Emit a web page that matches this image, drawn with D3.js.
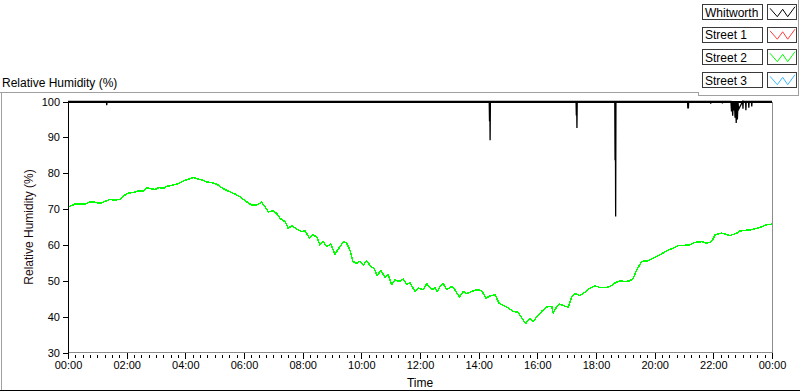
<!DOCTYPE html>
<html>
<head>
<meta charset="utf-8">
<script src="https://cdn.jsdelivr.net/npm/d3@7"></script>
<style>
  html, body { margin: 0; padding: 0; background: #fff; }
  svg { display: block; font-family: "Liberation Sans", Arial, sans-serif; }
</style>
</head>
<body>
<svg id="chart" width="800" height="392"></svg>
<script>
// ---------- DATA ----------
const seriesNames = ["Whitworth", "Street 1", "Street 2", "Street 3"];
const seriesColors = ["#000000", "#ff3c3c", "#00ff00", "#3cb9ff"];

const yTickValues = [30, 40, 50, 60, 70, 80, 90, 100];
const xTickHours = [0, 2, 4, 6, 8, 10, 12, 14, 16, 18, 20, 22, 24];
const xTickLabels = ["00:00", "02:00", "04:00", "06:00", "08:00", "10:00", "12:00",
                     "14:00", "16:00", "18:00", "20:00", "22:00", "00:00"];

// Whitworth (black) – hours of day, relative humidity %
const whitworthHours = [0, 1.31, 1.32, 1.33, 14.36, 14.37, 14.38, 14.39, 14.40,
  17.32, 17.33, 17.34, 17.35, 17.36, 18.64, 18.65, 18.66, 18.67, 18.68,
  21.12, 21.13, 21.15, 21.16, 21.9, 21.91, 21.92, 22.3, 22.31, 22.32,
  22.6, 22.62, 22.64, 22.66, 22.68, 22.7, 22.72, 22.74, 22.76, 22.78, 22.8, 22.82, 22.84, 22.86,
  23.0, 23.01, 23.02, 23.1, 23.11, 23.12, 23.2, 23.21, 23.22, 23.3, 23.31, 23.32, 24];
const whitworthValues = [100, 100, 99.0, 100, 100, 94.5, 100, 89.2, 100,
  100, 96.1, 100, 92.6, 100, 100, 83.6, 100, 67.9, 100,
  100, 98.2, 98.2, 100, 100, 99.4, 100, 100, 99.5, 100,
  100, 97.2, 100, 96.0, 100, 97.5, 100, 95.5, 100, 94.0, 100, 95.0, 100, 97.8,
  100, 98.0, 100, 100, 97.6, 100, 100, 98.3, 100, 100, 98.6, 100, 100];

// Street 2 (green)
const street2Hours = [0.01, 0.24, 0.58, 0.75, 0.92, 1.09, 1.26, 1.43, 1.60, 1.77, 1.94, 2.06, 2.23, 2.40, 2.57,
  2.70, 2.85, 2.97, 3.10, 3.25, 3.39, 3.59, 3.76, 3.93, 4.10, 4.27, 4.39, 4.56, 4.73, 4.95,
  5.12, 5.29, 5.46, 5.64, 5.81, 5.98, 6.15, 6.26, 6.43, 6.60, 6.72, 6.83, 7.00, 7.11, 7.23,
  7.40, 7.51, 7.63, 7.80, 7.97, 8.08, 8.23,
  8.34, 8.48, 8.59, 8.70, 8.82, 8.96, 9.10, 9.21, 9.39, 9.50, 9.61, 9.71, 9.84, 9.95, 10.07,
  10.18, 10.32, 10.43, 10.54, 10.66, 10.81, 10.92, 11.03, 11.15, 11.29, 11.43, 11.55, 11.66, 11.83, 11.94,
  12.11, 12.23, 12.40, 12.51, 12.59, 12.68, 12.79, 12.91, 13.08, 13.19, 13.34, 13.48, 13.59, 13.76, 13.93,
  14.10, 14.25, 14.39, 14.56, 14.69, 14.84, 15.01, 15.18, 15.35, 15.47, 15.60, 15.75, 15.86, 16.00, 16.15, 16.32,
  16.49, 16.54, 16.66, 16.77, 16.94, 17.06, 17.17, 17.28, 17.45, 17.59, 17.80, 17.97, 18.14, 18.31, 18.48,
  18.65, 18.82, 18.99, 19.16, 19.27, 19.39, 19.56, 19.78, 19.95, 20.18, 20.41, 20.63, 20.81, 21.20, 21.37,
  21.60, 21.77, 21.94, 22.06, 22.28, 22.57, 22.80, 22.91, 23.25, 23.48, 23.82, 23.99];
const street2Values = [70.6, 71.4, 71.4, 72.0, 71.9, 71.6, 72.1, 72.7, 72.5, 72.7, 73.9, 74.5, 74.6, 75.1, 75.1,
  75.9, 75.6, 75.5, 76.0, 75.8, 76.4, 76.7, 77.1, 77.8, 78.3, 78.8, 78.5, 78.1, 77.6, 77.3,
  76.7, 75.7, 75.0, 74.4, 73.7, 72.7, 71.7, 71.1, 71.1, 71.9, 70.6, 69.2, 69.5, 68.8, 67.4,
  66.5, 64.6, 65.4, 64.4, 63.7, 64.0, 61.9,
  62.8, 62.3, 60.0, 60.9, 59.5, 60.3, 57.4, 58.8, 60.9, 60.5, 58.6, 55.4, 54.9, 55.4, 54.4,
  55.6, 54.0, 53.5, 51.4, 52.9, 51.0, 51.7, 48.9, 50.3, 49.8, 50.5, 48.9, 49.5, 47.0, 48.0,
  47.5, 49.2, 47.5, 48.0, 47.0, 48.4, 49.2, 47.5, 48.4, 47.5, 45.5, 47.0, 46.4, 47.0, 47.5,
  47.3, 45.2, 45.8, 46.1, 43.8, 43.1, 42.4, 41.5, 41.2, 39.6, 38.1, 39.6, 38.7, 40.1, 41.5, 42.7,
  42.9, 41.0, 42.7, 43.5, 42.9, 42.7, 45.6, 46.4, 45.9, 46.6, 48.0, 48.6, 48.1, 48.1, 48.4,
  49.4, 50.0, 49.8, 50.0, 50.7, 53.1, 55.4, 55.6, 56.3, 57.2, 58.4, 59.1, 59.8, 60.0, 60.7,
  60.9, 60.5, 60.9, 62.8, 63.3, 62.6, 63.3, 63.9, 64.2, 64.6, 65.6, 65.8];

// ---------- LAYOUT ----------
const svg = d3.select("#chart");
const plot = { left: 68, right: 772, top: 101.5, bottom: 352.5 };

const x = d3.scaleLinear().domain([0, 24]).range([plot.left, plot.right]);
const y = d3.scaleLinear().domain([30, 100]).range([plot.bottom, plot.top]);

// outer frame
const frame = svg.append("g").attr("fill", "none").attr("shape-rendering", "crispEdges");
frame.append("path").attr("d", "M0,92.5H698.5V95.5H798.5V0").attr("stroke", "#a0a0a0");
frame.append("path").attr("d", "M1.5,92.5V390").attr("stroke", "#a0a0a0");
frame.append("path").attr("d", "M0,390.5H800").attr("stroke", "#000");

// title
svg.append("text").attr("x", 2).attr("y", 87).attr("font-size", 12).attr("fill", "#000")
  .text("Relative Humidity (%)");

// plot borders (right and bottom grey)
frame.append("path")
  .attr("d", `M${plot.left},${plot.bottom}H${plot.right + 0.5}V${plot.top}`)
  .attr("stroke", "#8c8c8c");

// clip
svg.append("clipPath").attr("id", "clip").append("rect")
  .attr("x", plot.left).attr("y", plot.top - 1.5)
  .attr("width", plot.right - plot.left).attr("height", plot.bottom - plot.top + 1.5);

const line = d3.line().x(d => x(d[0])).y(d => y(d[1]));

const street2 = street2Hours.map((h, i) => [h, street2Values[i]]);
const whit = whitworthHours.map((h, i) => [h, whitworthValues[i]]);

const lines = svg.append("g").attr("clip-path", "url(#clip)");
lines.append("path").datum(street2).attr("d", line)
  .attr("fill", "none").attr("stroke", seriesColors[2]).attr("stroke-width", 1.5)
  .attr("stroke-linejoin", "round").attr("shape-rendering", "crispEdges");
lines.append("path").datum(whit).attr("d", line)
  .attr("fill", "none").attr("stroke", seriesColors[0]).attr("stroke-width", 1.3);
// top black band at 100
lines.append("line")
  .attr("x1", plot.left).attr("x2", plot.right)
  .attr("y1", y(100) + 0.5).attr("y2", y(100) + 0.5)
  .attr("stroke", "#000").attr("stroke-width", 2);

// y axis
const yAxis = d3.axisLeft(y).tickValues(yTickValues).tickSize(5).tickSizeOuter(0).tickPadding(3);
const gy = svg.append("g").attr("transform", `translate(${plot.left},0)`).call(yAxis);
gy.select(".domain").attr("stroke", "#000").attr("shape-rendering", "crispEdges");
gy.selectAll(".tick line").attr("stroke", "#000").attr("shape-rendering", "crispEdges");
gy.selectAll("text").attr("font-size", 11).attr("fill", "#000").attr("font-family", "Liberation Sans, Arial, sans-serif");

// x axis
const xAxis = d3.axisBottom(x).tickValues(xTickHours).tickSize(6).tickSizeOuter(0).tickPadding(3)
  .tickFormat((d, i) => xTickLabels[i]);
const gx = svg.append("g").attr("transform", `translate(0,${plot.bottom})`).call(xAxis);
gx.select(".domain").remove();
gx.selectAll(".tick line").attr("stroke", "#000").attr("shape-rendering", "crispEdges");
gx.selectAll("text").attr("font-size", 11).attr("fill", "#000").attr("font-family", "Liberation Sans, Arial, sans-serif");

// minor ticks every 15 min
const minorTicks = d3.range(0, 24.001, 0.25).filter(h => Math.abs(h / 2 - Math.round(h / 2)) > 1e-6);
svg.append("g").selectAll("line").data(minorTicks).join("line")
  .attr("x1", d => Math.round(x(d)) + 0.5).attr("x2", d => Math.round(x(d)) + 0.5)
  .attr("y1", plot.bottom + 2.5).attr("y2", plot.bottom + 5.5)
  .attr("stroke", "#000").attr("shape-rendering", "crispEdges");

// axis titles
svg.append("text").attr("x", (plot.left + plot.right) / 2).attr("y", 387)
  .attr("text-anchor", "middle").attr("font-size", 12).attr("fill", "#000").text("Time");
svg.append("text")
  .attr("transform", `translate(33,${(plot.top + plot.bottom) / 2}) rotate(-90)`)
  .attr("text-anchor", "middle").attr("font-size", 12).attr("fill", "#1a0a10")
  .text("Relative Humidity (%)");

// legend
const legend = svg.append("g");
const rowY = [4.5, 27, 49.5, 72.5];
seriesNames.forEach((name, i) => {
  const g = legend.append("g").attr("transform", `translate(0,${rowY[i]})`);
  g.append("rect").attr("x", 702.5).attr("y", 0).attr("width", 60).attr("height", 15)
    .attr("fill", "#fff").attr("stroke", "#3a3a3a").attr("shape-rendering", "crispEdges");
  g.append("text").attr("x", 705).attr("y", 12).attr("font-size", 12).attr("fill", "#000").text(name);
  g.append("rect").attr("x", 767.5).attr("y", 0).attr("width", 29).attr("height", 15)
    .attr("fill", "#fff").attr("stroke", "#3a3a3a").attr("shape-rendering", "crispEdges");
  const zz = [[770, 3.8], [777.3, 12.2], [782.7, 4.8], [787.7, 12.2], [795, 2.2]];
  g.append("path").attr("d", d3.line()(zz)).attr("fill", "none")
    .attr("stroke", seriesColors[i]).attr("stroke-width", 1);
});
</script>
</body>
</html>
